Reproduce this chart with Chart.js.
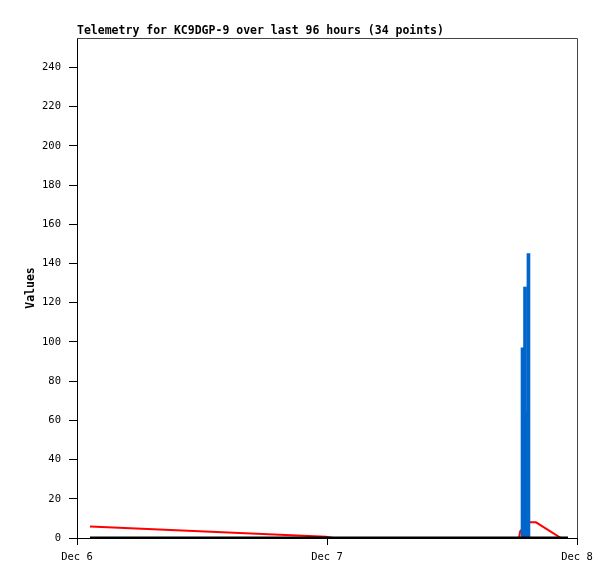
<!DOCTYPE html>
<html>
<head>
<meta charset="utf-8">
<script src="https://cdn.jsdelivr.net/npm/chart.js@4.4.1/dist/chart.umd.min.js"></script>
<style>
  body { margin: 0; background: #fff; }
  canvas { display: block; }
</style>
</head>
<body>
<canvas id="chart" width="615" height="579"></canvas>
<script>
const titleText = 'Telemetry for KC9DGP-9 over last 96 hours (34 points)';
const yTitle = 'Values';

// hours since Dec 6 00:00
const tickHours = [0, 24, 48];
const tickLabels = ['Dec 6', 'Dec 7', 'Dec 8'];

const blackHours = [1.25, 47.14];
const blackValues = [0, 0];

const blueHours = [42.77, 43.01, 43.15, 43.34];
const blueValues = [97, 128, 64, 145];

const redHours = [1.25, 23.9, 24.6, 42.43, 42.55, 43.39, 44.06, 46.46];
const redValues = [5.9, 0.6, 0, 0, 3.5, 8, 8, 0];

const toPoints = (xs, ys) => xs.map((x, i) => ({ x: x, y: ys[i] }));

const monoFont = '"DejaVu Sans Mono", "Liberation Mono", monospace';

const frame = {
    id: 'frame',
    afterDraw(chart) {
        const { ctx, chartArea } = chart;
        ctx.save();
        ctx.strokeStyle = '#444';
        ctx.lineWidth = 1;
        ctx.beginPath();
        ctx.moveTo(chartArea.left, chartArea.top + 0.5);
        ctx.lineTo(chartArea.right + 0.5, chartArea.top + 0.5);
        ctx.lineTo(chartArea.right + 0.5, chartArea.bottom);
        ctx.stroke();

        ctx.fillStyle = '#000';
        ctx.font = 'bold 11.5px ' + monoFont;
        ctx.textAlign = 'left';
        ctx.textBaseline = 'alphabetic';
        ctx.fillText(titleText, chartArea.left, 34);
        ctx.restore();
    },
};

new Chart(document.getElementById('chart'), {
    type: 'line',
    data: {
        datasets: [
            {
                label: 'zero',
                data: toPoints(blackHours, blackValues),
                borderColor: '#000',
                borderWidth: 3,
                pointRadius: 0,
            },
            {
                type: 'bar',
                label: 'blue',
                data: toPoints(blueHours, blueValues),
                backgroundColor: '#0066cc',
                borderWidth: 0,
                barThickness: 3,
            },
            {
                label: 'red',
                data: toPoints(redHours, redValues),
                borderColor: '#ff0000',
                borderWidth: 2,
                pointRadius: 0,
            },
        ],
    },
    options: {
        responsive: false,
        animation: false,
        layout: {
            padding: { top: 38, right: 38, left: 0, bottom: 0 },
        },
        plugins: {
            legend: { display: false },
            tooltip: { enabled: false },
        },
        scales: {
            x: {
                type: 'linear',
                min: 0,
                max: 48,
                offset: false,
                afterFit: (scale) => { scale.height = 41; },
                afterBuildTicks: (scale) => {
                    scale.ticks = tickHours.map((v) => ({ value: v }));
                },
                grid: {
                    offset: false,
                    drawOnChartArea: false,
                    tickLength: 7,
                    color: '#000',
                },
                border: { color: '#000' },
                ticks: {
                    padding: 6,
                    color: '#000',
                    maxRotation: 0,
                    autoSkip: false,
                    font: { family: monoFont, size: 10.5 },
                    callback: (value) => {
                        const i = tickHours.indexOf(value);
                        return i >= 0 ? tickLabels[i] : '';
                    },
                },
            },
            y: {
                min: 0,
                max: 255,
                afterFit: (scale) => { scale.width = 77; },
                grid: {
                    drawOnChartArea: false,
                    tickLength: 8,
                    color: '#000',
                },
                border: { color: '#000' },
                ticks: {
                    stepSize: 20,
                    includeBounds: false,
                    padding: 8,
                    color: '#000',
                    font: { family: monoFont, size: 10.5 },
                },
                title: {
                    display: true,
                    text: yTitle,
                    color: '#000',
                    padding: { top: 24, bottom: 0 },
                    font: { family: monoFont, size: 11.5, weight: 'bold' },
                },
            },
        },
    },
    plugins: [frame],
});
</script>
</body>
</html>
